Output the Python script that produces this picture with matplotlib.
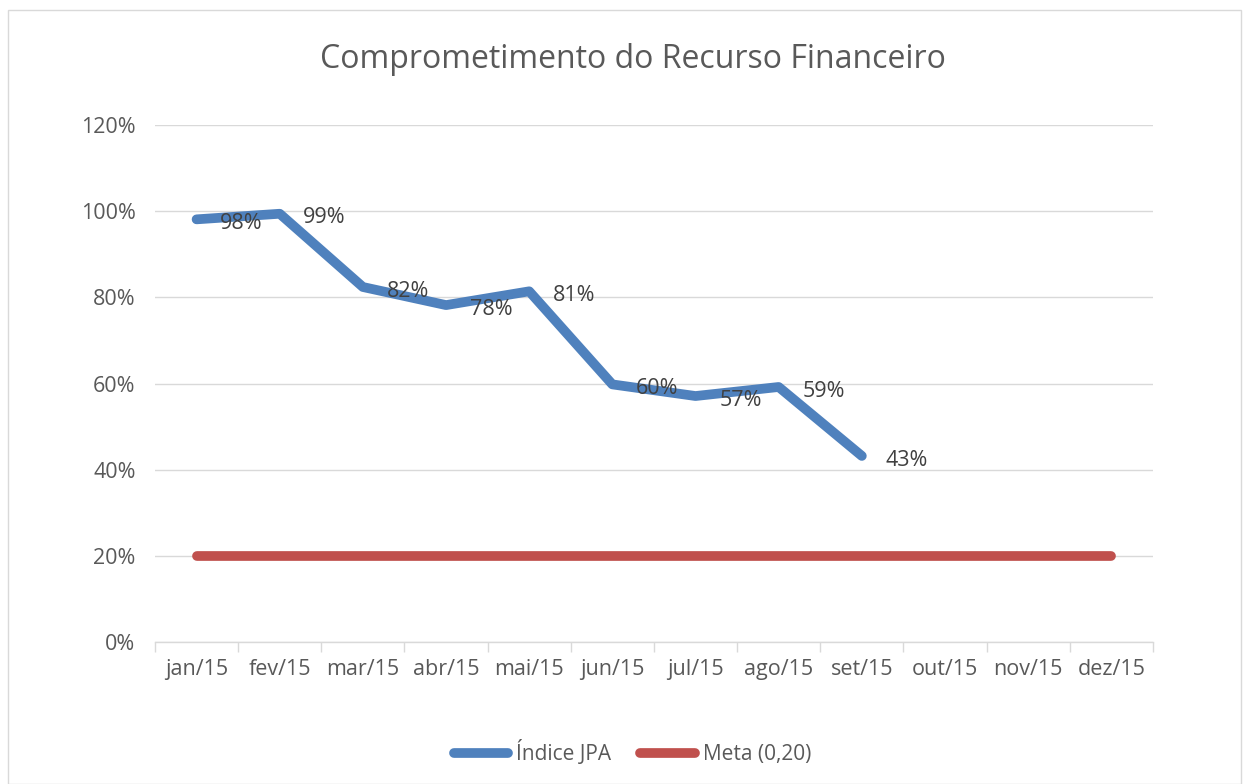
import matplotlib.pyplot as plt
from matplotlib.patches import Rectangle
from matplotlib.ticker import FixedLocator, PercentFormatter

# dados do grafico
meses = ['jan/15', 'fev/15', 'mar/15', 'abr/15', 'mai/15', 'jun/15',
         'jul/15', 'ago/15', 'set/15', 'out/15', 'nov/15', 'dez/15']
indice_jpa = [0.981, 0.994, 0.824, 0.782, 0.814, 0.598, 0.571, 0.592, 0.432]
meta = [0.20] * 12

COR_TEXTO = '#595959'
AZUL = '#4f81bd'
VERMELHO = '#c0504d'

plt.rcParams['font.family'] = ['Open Sans', 'DejaVu Sans']

fig = plt.figure(figsize=(12.45, 7.84), dpi=100)
ax = fig.add_axes([0.1245, 0.181, 0.8015, 0.6596])

x_meta = list(range(len(meses)))
x_jpa = list(range(len(indice_jpa)))

ax.plot(x_meta, meta, color=VERMELHO, linewidth=7, solid_capstyle='round',
        label='Meta (0,20)', zorder=3)
ax.plot(x_jpa, indice_jpa, color=AZUL, linewidth=7, solid_capstyle='round',
        solid_joinstyle='round', label='Índice JPA', zorder=4)

for xi, v in zip(x_jpa, indice_jpa):
    ax.annotate(f'{round(v * 100):.0f}%', (xi, v), xytext=(17, -3),
                textcoords='offset points', ha='left', va='center',
                fontsize=15.5, color='#404040', zorder=5)

ax.set_xlim(-0.5, len(meses) - 0.5)
ax.set_ylim(0, 1.2)
ax.set_yticks([0, 0.2, 0.4, 0.6, 0.8, 1.0, 1.2])
ax.yaxis.set_major_formatter(PercentFormatter(1.0, decimals=0))
ax.set_xticks(x_meta)
ax.set_xticklabels(meses)
ax.xaxis.set_minor_locator(FixedLocator([i - 0.5 for i in range(len(meses) + 1)]))
ax.tick_params(axis='x', which='major', length=0, pad=12, labelsize=15.5, labelcolor=COR_TEXTO)
ax.tick_params(axis='x', which='minor', length=7, color='#d9d9d9', width=1)
ax.tick_params(axis='y', length=0, pad=14, labelsize=15.5, labelcolor=COR_TEXTO)

ax.grid(axis='y', color='#d9d9d9', linewidth=1)
ax.set_axisbelow(True)
for s in ['top', 'right', 'left']:
    ax.spines[s].set_visible(False)
ax.spines['bottom'].set_color('#d9d9d9')
ax.spines['bottom'].set_linewidth(1)

fig.text(0.508, 0.924, 'Comprometimento do Recurso Financeiro',
         ha='center', va='center', fontsize=23, color=COR_TEXTO)

handles, labels = ax.get_legend_handles_labels()
leg = fig.legend(handles[::-1], labels[::-1], loc='center', bbox_to_anchor=(0.508, 0.04),
                 ncol=2, frameon=False, fontsize=15, handlelength=2.6,
                 handletextpad=0.4, columnspacing=1.4)
for t in leg.get_texts():
    t.set_color(COR_TEXTO)

fig.patches.append(Rectangle((0.0065, 0.0), 0.99, 0.987, transform=fig.transFigure,
                             fill=False, edgecolor='#d9d9d9', linewidth=1))

fig.savefig('out.png', dpi=100)
